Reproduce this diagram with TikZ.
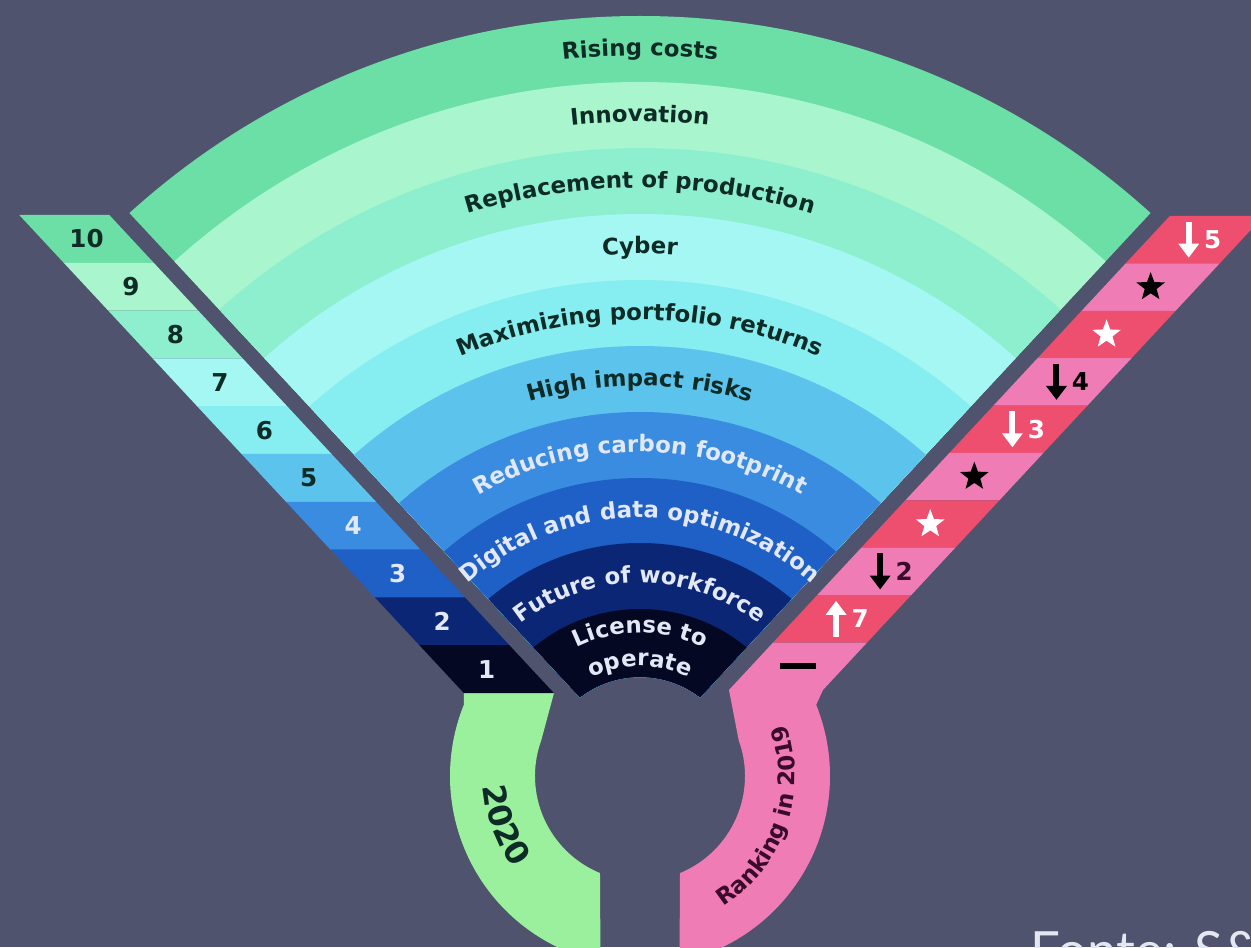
\documentclass[tikz,border=0pt]{standalone}
\usepackage{fontspec}
\setmainfont{DejaVu Sans}
\newfontfamily\notefam{Lato}
\usetikzlibrary{decorations.text,shapes.geometric,arrows.meta}

\definecolor{bgslate}{HTML}{4F536E}
\definecolor{bandA}{HTML}{6BDFA5}
\definecolor{bandB}{HTML}{A8F5CE}
\definecolor{bandC}{HTML}{8DEFCD}
\definecolor{bandD}{HTML}{A4F7F3}
\definecolor{bandE}{HTML}{86EDF1}
\definecolor{bandF}{HTML}{5CC3EC}
\definecolor{bandG}{HTML}{3A8CE0}
\definecolor{bandH}{HTML}{1F60C6}
\definecolor{bandI}{HTML}{0A2674}
\definecolor{bandJ}{HTML}{040822}
\definecolor{txtdark}{HTML}{0E2B26}
\definecolor{txtlight}{HTML}{E2E8F6}
\definecolor{ringgreen}{HTML}{9AF09C}
\definecolor{ringpink}{HTML}{F07CB6}
\definecolor{stripered}{HTML}{EF4F6F}
\definecolor{rankplum}{HTML}{3A0A2A}
\definecolor{notegray}{HTML}{E4E6F0}

\newcommand{\lblsize}{\bfseries\fontsize{13}{15}\selectfont}
\newcommand{\yearsize}{\bfseries\fontsize{18}{20}\selectfont}
\newcommand{\bandtext}[3]{\path[decorate,decoration={text along path,text align=center,text color=#2,text={|\lblsize|#3}}] (160:#1) arc (160:20:#1);}

\tikzset{
    ranknum/.style={font=\bfseries\fontsize{14}{16}\selectfont, inner sep=0pt},
    pinknum/.style={font=\bfseries\fontsize{14}{16}\selectfont, inner sep=0pt},
    starmark/.style={star, star points=5, star point ratio=2.4, minimum size=0.6cm, inner sep=0pt},
    trendarrow/.style={line width=0.12cm, -{Triangle[width=0.4cm,length=0.28cm]}},
}

\begin{document}
\begin{tikzpicture}[x=0.02cm,y=0.02cm]
                    \useasboundingbox (-640,-171) rectangle (611,776);
                    \fill[bgslate] (-640,-171) rectangle (611,776);
                    \begin{scope}
                        \clip (0,14) -- (-731,800) -- (731,800) -- cycle;
                        \foreach \r/\c in {760/bandA,694/bandB,628/bandC,562/bandD,496/bandE,430/bandF,364/bandG,298/bandH,233/bandI,167/bandJ}
                        {
                            \fill[\c, even odd rule] (0,0) circle (\r) circle (99);
                        }
                    \end{scope}
                    \bandtext{720}{txtdark}{Rising costs}
                    \bandtext{654}{txtdark}{Innovation}
                    \bandtext{588}{txtdark}{Replacement of production}
                    \bandtext{522}{txtdark}{Cyber}
                    \bandtext{456}{txtdark}{Maximizing portfolio returns}
                    \bandtext{390}{txtdark}{High impact risks}
                    \bandtext{324}{txtlight}{Reducing carbon footprint}
                    \bandtext{258}{txtlight}{Digital and data optimization}
                    \bandtext{193}{txtlight}{Future of workforce}
                    \bandtext{143}{txtlight}{License to}
                    \bandtext{110}{txtlight}{operate}
                    \fill[ringgreen] (-176,83) -- (-86,83) -- (160:105) arc (160:247.6:105) -- (258:190) arc (258:158:190) -- cycle;
                    \fill[ringpink] (89,86) -- (183,86) -- (22:190) arc (22:-78:190) -- (-67.6:105) arc (-67.6:20:105) -- cycle;
                    \foreach \c [count=\i from 0] in {bandA,bandB,bandC,bandD,bandE,bandF,bandG,bandH,bandI,bandJ}
                    {
                        \pgfmathsetmacro\ya{561-47.8*\i}
                        \pgfmathsetmacro\yb{561-47.8*(\i+1)}
                        \fill[\c] ({-(\ya-14)*0.93-112},\ya) -- ({-(\ya-14)*0.93-22},\ya) -- ({-(\yb-14)*0.93-22},\yb) -- ({-(\yb-14)*0.93-112},\yb) -- cycle;
                    }
                    \foreach \n/\t [count=\i from 0] in {10/txtdark,9/txtdark,8/txtdark,7/txtdark,6/txtdark,5/txtdark,4/txtlight,3/txtlight,2/txtlight,1/txtlight}
                    {
                        \pgfmathsetmacro\yc{561-47.8*(\i+0.5)}
                        \node[ranknum, text=\t] (rank\n) at ({-(\yc-14)*0.93-67},\yc) {\n};
                    }
                    \foreach \c [count=\i from 0] in {stripered,ringpink,stripered,ringpink,stripered,ringpink,stripered,ringpink,stripered,ringpink}
                    {
                        \pgfmathsetmacro\ya{560-47.4*\i}
                        \pgfmathsetmacro\yb{560-47.4*(\i+1)}
                        \fill[\c] ({(\ya-14)*0.93+22},\ya) -- ({(\ya-14)*0.93+116},\ya) -- ({(\yb-14)*0.93+116},\yb) -- ({(\yb-14)*0.93+22},\yb) -- cycle;
                        \pgfmathsetmacro\yc{560-47.4*(\i+0.5)}
                        \coordinate (p\i) at ({(\yc-14)*0.93+69},\yc);
                    }
                    \draw[trendarrow, white] ([shift={(-6,18)}]p0) -- ++(0,-36);
                    \node[pinknum, text=white] (chg5) at ([shift={(18,0)}]p0) {5};
                    \node[starmark, fill=black] (new1) at (p1) {};
                    \node[starmark, fill=white] (new2) at (p2) {};
                    \draw[trendarrow, black] ([shift={(-6,18)}]p3) -- ++(0,-36);
                    \node[pinknum, text=black] (chg4) at ([shift={(18,0)}]p3) {4};
                    \draw[trendarrow, white] ([shift={(-6,18)}]p4) -- ++(0,-36);
                    \node[pinknum, text=white] (chg3) at ([shift={(18,0)}]p4) {3};
                    \node[starmark, fill=black] (new3) at (p5) {};
                    \node[starmark, fill=white] (new4) at (p6) {};
                    \draw[trendarrow, black] ([shift={(-6,18)}]p7) -- ++(0,-36);
                    \node[pinknum, text=rankplum] (chg2) at ([shift={(18,0)}]p7) {2};
                    \draw[trendarrow, white] ([shift={(-6,-18)}]p8) -- ++(0,36);
                    \node[pinknum, text=white] (chg7) at ([shift={(18,0)}]p8) {7};
                    \draw[line width=0.12cm, black] ([shift={(-18,0)}]p9) -- ++(36,0);
                    \path[decorate,decoration={text along path,text align=center,text color=txtdark,text={|\yearsize|2020}}] (165:157) arc (165:235:157);
                    \path[decorate,decoration={text along path,text align=center,text color=rankplum,text={|\lblsize|Ranking in 2019}}] (-70:155) arc (-70:32:155);
                    \node[anchor=north west, inner sep=0pt, font=\notefam\fontsize{30}{34}\selectfont, text=notegray] (source) at (390,-155) {Fonte: S\&P};
                \end{tikzpicture}
\end{document}
